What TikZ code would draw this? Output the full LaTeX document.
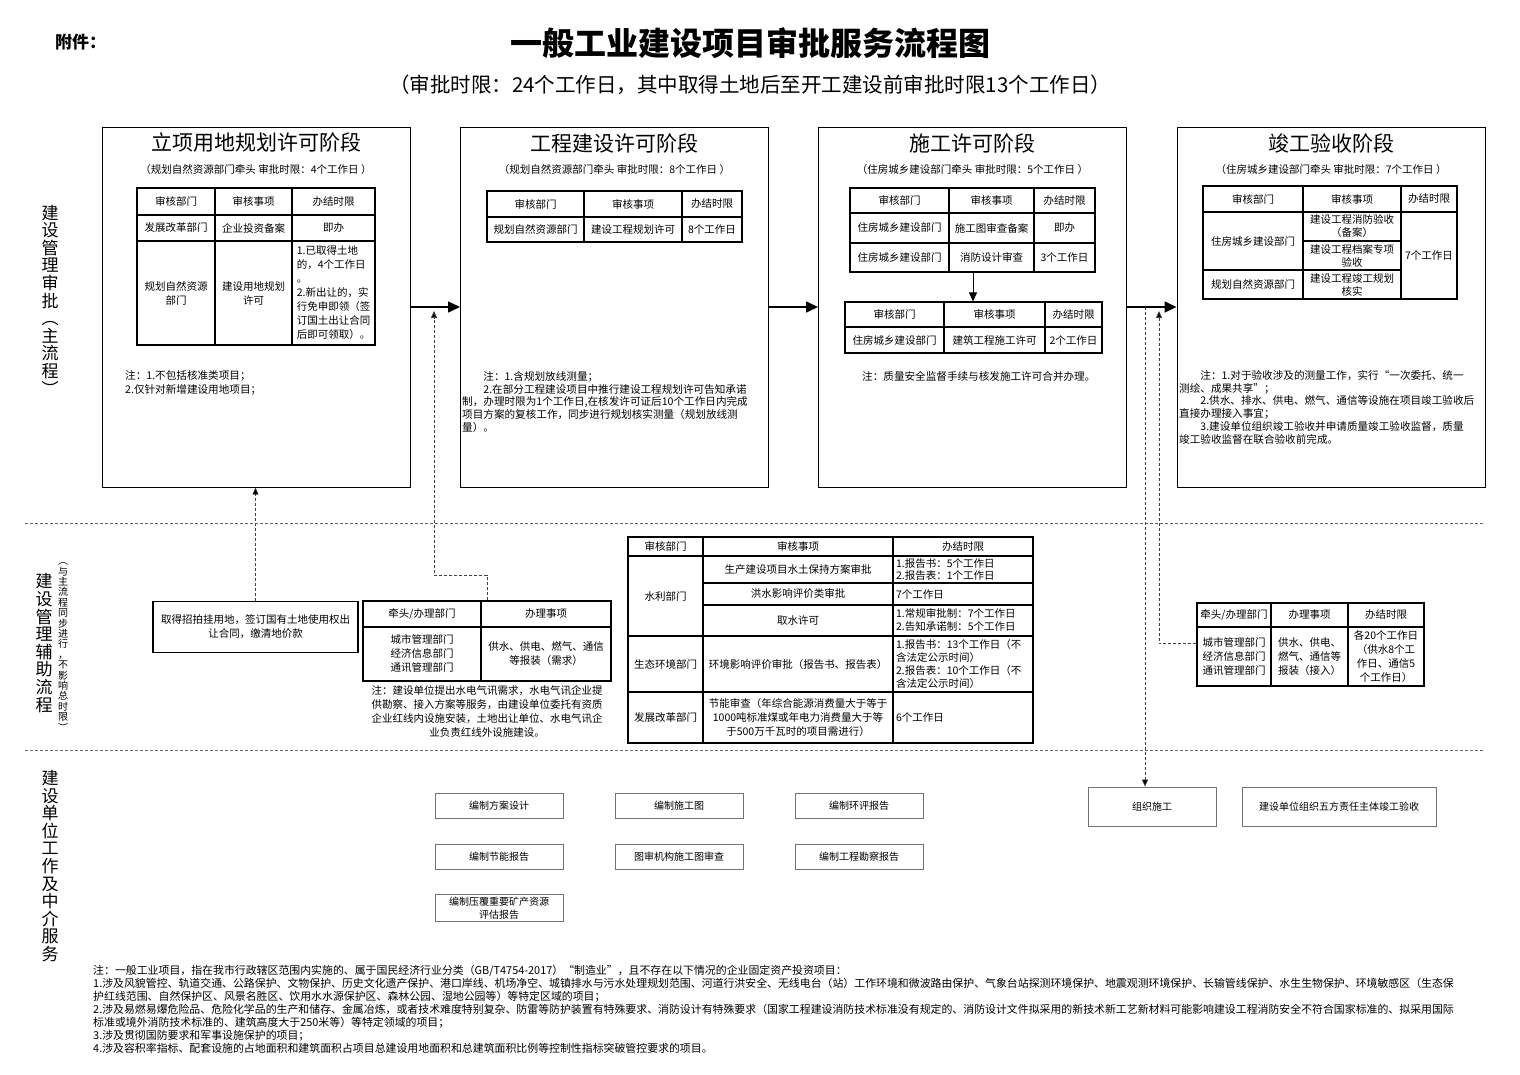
\documentclass[tikz,border=0pt]{standalone}
\usepackage{fontspec}
\setmainfont{Noto Sans CJK SC}
\usepackage{tikz}
\usetikzlibrary{arrows.meta,positioning,calc}

\newcommand{\fsz}[2]{\fontsize{#1}{#2}\selectfont}
% one table cell: [opts]{name}{x1}{y1}{x2}{y2}{text}
\newcommand{\tabcell}[7][]{%
  \node[cell,minimum width={(#5-#3)*1pt},minimum height={(#6-#4)*1pt},#1]
    (#2) at ({(#3+#5)/2},{(#4+#6)/2}) {#7};}

\begin{document}
\begin{tikzpicture}[
  x=1pt, y=-1pt,
  stage/.style  = {draw, line width=1pt, minimum width=308pt, minimum height=360pt},
  sttl/.style   = {inner sep=0, font=\fsz{21}{24}},
  ssub/.style   = {inner sep=0, font=\fsz{10.5}{12}},
  cell/.style   = {draw, line width=1.2pt, inner sep=0, align=center, font=\fsz{10.5}{14}},
  lcell/.style  = {align=left, inner xsep=3pt},
  note/.style   = {inner sep=0, anchor=north west, align=left, font=\fsz{10.6}{12.9}},
  wbox/.style   = {draw=black!55, line width=0.8pt, minimum width=128pt, minimum height=25pt,
                   inner sep=1pt, align=center, font=\fsz{10}{12.5}},
  vlab/.style   = {inner sep=0, align=center, font=\fsz{17}{17.6}},
  sep/.style    = {draw=black!60, line width=0.6pt, dash pattern=on 3pt off 2pt},
  flow/.style   = {line width=1.6pt, -{Triangle[length=12pt,width=11pt]}},
  dashar/.style = {draw=black!75, line width=0.6pt, dash pattern=on 3pt off 2pt,
                   -{Triangle[length=7pt,width=6pt,fill=black]}},
]
\useasboundingbox (0,0) rectangle (1520,1074);

% header
\node[inner sep=0, anchor=west, font=\fsz{17}{20}\bfseries] (att) at (55,42) {附件：};
\node[inner sep=0, font=\fsz{32}{36}\bfseries] (ttl) at (750,43) {一般工业建设项目审批服务流程图};
\node[inner sep=0, font=\fsz{20.5}{24}] (subttl) at (750,85)
  {（审批时限：24个工作日，其中取得土地后至开工建设前审批时限13个工作日）};

% section rules and side labels
\draw[sep] (25,523) -- (1485,523);
\draw[sep] (25,750) -- (1485,750);
\node[vlab] (lab1) at (50,300) {建\\设\\管\\理\\审\\批\\︵\\主\\流\\程\\︶};
\node[vlab] (lab2) at (44,643) {建\\设\\管\\理\\辅\\助\\流\\程};
\node[vlab, font=\fsz{10}{10.4}] (lab2s) at (63,647)
  {︵\\与\\主\\流\\程\\同\\步\\进\\行\\，\\不\\影\\响\\总\\时\\限\\︶};
\node[vlab] (lab3) at (50,866) {建\\设\\单\\位\\工\\作\\及\\中\\介\\服\\务};

% main flow: four stages
\node[stage] (s1) at (256,307) {};
\node[stage] (s2) at (614.5,307) {};
\node[stage] (s3) at (972.5,307) {};
\node[stage] (s4) at (1331,307) {};
\draw[flow] (s1) -- (s2);
\draw[flow] (s2) -- (s3);
\draw[flow] (s3) -- (s4);

% stage 1
\node[sttl] (s1t) at (256,143) {立项用地规划许可阶段};
\node[ssub] (s1s) at (256,170) {（规划自然资源部门牵头 审批时限：4个工作日 ）};
\tabcell{t1h1}{137}{188}{215}{215}{审核部门}
\tabcell{t1h2}{215}{188}{292}{215}{审核事项}
\tabcell{t1h3}{292}{188}{375}{215}{办结时限}
\tabcell{t1a1}{137}{215}{215}{241}{发展改革部门}
\tabcell{t1a2}{215}{215}{292}{241}{企业投资备案}
\tabcell{t1a3}{292}{215}{375}{241}{即办}
\tabcell{t1b1}{137}{241}{215}{345}{规划自然资源\\部门}
\tabcell{t1b2}{215}{241}{292}{345}{建设用地规划\\许可}
\tabcell[align=left]{t1b3}{292}{241}{375}{345}
  {1.已取得土地\\的，4个工作日\\。\\2.新出让的，实\\行免申即领（签\\订国土出让合同\\后即可领取）。}
\node[note, font=\fsz{10.6}{14.5}] (s1n) at (125,370) {注：1.不包括核准类项目；\\2.仅针对新增建设用地项目；};

% stage 2
\node[sttl] (s2t) at (614.5,143) {工程建设许可阶段};
\node[ssub] (s2s) at (614.5,170) {（规划自然资源部门牵头 审批时限：8个工作日 ）};
\tabcell{t2h1}{487}{191}{584}{217}{审核部门}
\tabcell{t2h2}{584}{191}{682}{217}{审核事项}
\tabcell{t2h3}{682}{191}{742}{217}{办结时限}
\tabcell{t2a1}{487}{217}{584}{242}{规划自然资源部门}
\tabcell{t2a2}{584}{217}{682}{242}{建设工程规划许可}
\tabcell{t2a3}{682}{217}{742}{242}{8个工作日}
\node[note] (s2n) at (462,371) {　　注：1.含规划放线测量；\\
  　　2.在部分工程建设项目中推行建设工程规划许可告知承诺\\
  制，办理时限为1个工作日,在核发许可证后10个工作日内完成\\
  项目方案的复核工作，同步进行规划核实测量（规划放线测\\量）。};

% stage 3
\node[sttl] (s3t) at (972.5,143) {施工许可阶段};
\node[ssub] (s3s) at (972.5,170) {（住房城乡建设部门牵头 审批时限：5个工作日 ）};
\tabcell{t3h1}{850}{188}{949}{213}{审核部门}
\tabcell{t3h2}{949}{188}{1034}{213}{审核事项}
\tabcell{t3h3}{1034}{188}{1095}{213}{办结时限}
\tabcell{t3a1}{850}{213}{949}{243}{住房城乡建设部门}
\tabcell{t3a2}{949}{213}{1034}{243}{施工图审查备案}
\tabcell{t3a3}{1034}{213}{1095}{243}{即办}
\tabcell{t3b1}{850}{243}{949}{272}{住房城乡建设部门}
\tabcell{t3b2}{949}{243}{1034}{272}{消防设计审查}
\tabcell{t3b3}{1034}{243}{1095}{272}{3个工作日}
\tabcell{t3ch1}{845}{302}{944}{327}{审核部门}
\tabcell{t3ch2}{944}{302}{1045}{327}{审核事项}
\tabcell{t3ch3}{1045}{302}{1102}{327}{办结时限}
\tabcell{t3c1}{845}{327}{944}{353}{住房城乡建设部门}
\tabcell{t3c2}{944}{327}{1045}{353}{建筑工程施工许可}
\tabcell{t3c3}{1045}{327}{1102}{353}{2个工作日}
\coordinate (spA) at (973,272);
\draw[line width=0.8pt, -{Triangle[length=9pt,width=8pt]}] (spA) -- (spA |- t3ch2.north);
\node[note] (s3n) at (862,371) {注：质量安全监督手续与核发施工许可合并办理。};

% stage 4
\node[sttl] (s4t) at (1331,143) {竣工验收阶段};
\node[ssub] (s4s) at (1331,170) {（住房城乡建设部门牵头 审批时限：7个工作日 ）};
\tabcell{t4h1}{1203}{186}{1303}{212}{审核部门}
\tabcell{t4h2}{1303}{186}{1401}{212}{审核事项}
\tabcell{t4h3}{1401}{186}{1457}{212}{办结时限}
\tabcell{t4a1}{1203}{212}{1303}{270}{住房城乡建设部门}
\tabcell[font=\fsz{10.5}{13}]{t4a2}{1303}{212}{1401}{241}{建设工程消防验收\\（备案）}
\tabcell[font=\fsz{10.5}{13}]{t4b2}{1303}{241}{1401}{270}{建设工程档案专项\\验收}
\tabcell{t4c1}{1203}{270}{1303}{299}{规划自然资源部门}
\tabcell[font=\fsz{10.5}{13}]{t4c2}{1303}{270}{1401}{299}{建设工程竣工规划\\核实}
\tabcell{t4d3}{1401}{212}{1457}{299}{7个工作日}
\node[note] (s4n) at (1179,370) {　　注：1.对于验收涉及的测量工作，实行“一次委托、统一\\
  测绘、成果共享”；\\
  　　2.供水、排水、供电、燃气、通信等设施在项目竣工验收后\\
  直接办理接入事宜；\\
  　　3.建设单位组织竣工验收并申请质量竣工验收监督，质量\\
  竣工验收监督在联合验收前完成。};

% auxiliary flow
\node[draw, line width=1.1pt, minimum width=205pt, minimum height=51pt, inner sep=2pt,
  align=center, anchor=north, font=\fsz{10.5}{14}] (landbox) at (255.5,601)
  {取得招拍挂用地，签订国有土地使用权出\\让合同，缴清地价款};
\draw[dashar] (landbox.north) -- (landbox.north |- s1.south);

\tabcell{tBh1}{363}{601}{481}{627}{牵头/办理部门}
\tabcell{tBh2}{481}{601}{611}{627}{办理事项}
\tabcell{tB1}{363}{627}{481}{681}{城市管理部门\\经济信息部门\\通讯管理部门}
\tabcell{tB2}{481}{627}{611}{681}{供水、供电、燃气、通信\\等报装（需求）}
\node[inner sep=0, anchor=north, align=center, font=\fsz{10.5}{14}] (tBn) at (487,685)
  {注：建设单位提出水电气讯需求，水电气讯企业提\\供勘察、接入方案等服务，由建设单位委托有资质\\
   企业红线内设施安装，土地出让单位、水电气讯企\\业负责红线外设施建设。};
\coordinate (bend1) at (434,575);
\coordinate (up1) at (434,311);
\draw[dashar] ([xshift=-59]tBh2.north) |- (bend1) -- (up1);

\tabcell{tCh1}{628}{537}{703}{556}{审核部门}
\tabcell{tCh2}{703}{537}{893}{556}{审核事项}
\tabcell{tCh3}{893}{537}{1033}{556}{办结时限}
\tabcell{tCw}{628}{556}{703}{636}{水利部门}
\tabcell{tCw2a}{703}{556}{893}{583}{生产建设项目水土保持方案审批}
\tabcell[lcell, text width=134pt, font=\fsz{10.5}{12.5}]{tCw3a}{893}{556}{1033}{583}{1.报告书：5个工作日\\2.报告表：1个工作日}
\tabcell{tCw2b}{703}{583}{893}{605}{洪水影响评价类审批}
\tabcell[lcell, text width=134pt]{tCw3b}{893}{583}{1033}{605}{7个工作日}
\tabcell{tCw2c}{703}{605}{893}{636}{取水许可}
\tabcell[lcell, text width=134pt, font=\fsz{10.5}{13}]{tCw3c}{893}{605}{1033}{636}{1.常规审批制：7个工作日\\2.告知承诺制：5个工作日}
\tabcell{tCe}{628}{636}{703}{692}{生态环境部门}
\tabcell{tCe2}{703}{636}{893}{692}{环境影响评价审批（报告书、报告表）}
\tabcell[lcell, text width=134pt, font=\fsz{10.5}{13.2}]{tCe3}{893}{636}{1033}{692}
  {1.报告书：13个工作日（不\\含法定公示时间）\\2.报告表：10个工作日（不\\含法定公示时间）}
\tabcell{tCd}{628}{692}{703}{743}{发展改革部门}
\tabcell[font=\fsz{10.5}{14}]{tCd2}{703}{692}{893}{743}
  {节能审查（年综合能源消费量大于等于\\1000吨标准煤或年电力消费量大于等\\于500万千瓦时的项目需进行）}
\tabcell[lcell, text width=134pt]{tCd3}{893}{692}{1033}{743}{6个工作日}

\tabcell{tDh1}{1197}{603}{1271}{627}{牵头/办理部门}
\tabcell{tDh2}{1271}{603}{1348}{627}{办理事项}
\tabcell{tDh3}{1348}{603}{1424}{627}{办结时限}
\tabcell{tD1}{1197}{627}{1271}{686}{城市管理部门\\经济信息部门\\通讯管理部门}
\tabcell{tD2}{1271}{627}{1348}{686}{供水、供电、\\燃气、通信等\\报装（接入）}
\tabcell{tD3}{1348}{627}{1424}{686}{各20个工作日\\（供水8个工\\作日、通信5\\个工作日）}
\coordinate (up2) at (1159,311);
\draw[dashar] ([yshift=13]tD1.west) -| (up2);

% builder and agency work
\node[wbox] (w1) at (499,805.5) {编制方案设计};
\node[wbox] (w2) at (679,805.5) {编制施工图};
\node[wbox] (w3) at (859,805.5) {编制环评报告};
\node[wbox] (w4) at (499,856.5) {编制节能报告};
\node[wbox] (w5) at (679,856.5) {图审机构施工图审查};
\node[wbox] (w6) at (859,856.5) {编制工程勘察报告};
\node[wbox, minimum height=27pt] (w7) at (499,908) {编制压覆重要矿产资源\\评估报告};
\node[wbox, minimum height=39pt] (build) at (1152,806.5) {组织施工};
\node[wbox, minimum width=194pt, minimum height=39pt] (accept) at (1339,806.5) {建设单位组织五方责任主体竣工验收};
\coordinate (dn1) at (1145,307);
\draw[dashar] (dn1) -- (dn1 |- build.north);

% footnote
\node[note, font=\fsz{10.9}{13}] (foot) at (93,965)
  {注：一般工业项目，指在我市行政辖区范围内实施的、属于国民经济行业分类（GB/T4754-2017）“制造业”，且不存在以下情况的企业固定资产投资项目：\\
  1.涉及风貌管控、轨道交通、公路保护、文物保护、历史文化遗产保护、港口岸线、机场净空、城镇排水与污水处理规划范围、河道行洪安全、无线电台（站）工作环境和微波路由保护、气象台站探测环境保护、地震观测环境保护、长输管线保护、水生生物保护、环境敏感区（生态保\\
  护红线范围、自然保护区、风景名胜区、饮用水水源保护区、森林公园、湿地公园等）等特定区域的项目；\\
  2.涉及易燃易爆危险品、危险化学品的生产和储存、金属冶炼，或者技术难度特别复杂、防雷等防护装置有特殊要求、消防设计有特殊要求（国家工程建设消防技术标准没有规定的、消防设计文件拟采用的新技术新工艺新材料可能影响建设工程消防安全不符合国家标准的、拟采用国际\\
  标准或境外消防技术标准的、建筑高度大于250米等）等特定领域的项目；\\
  3.涉及贯彻国防要求和军事设施保护的项目；\\
  4.涉及容积率指标、配套设施的占地面积和建筑面积占项目总建设用地面积和总建筑面积比例等控制性指标突破管控要求的项目。};
\end{tikzpicture}
\end{document}
